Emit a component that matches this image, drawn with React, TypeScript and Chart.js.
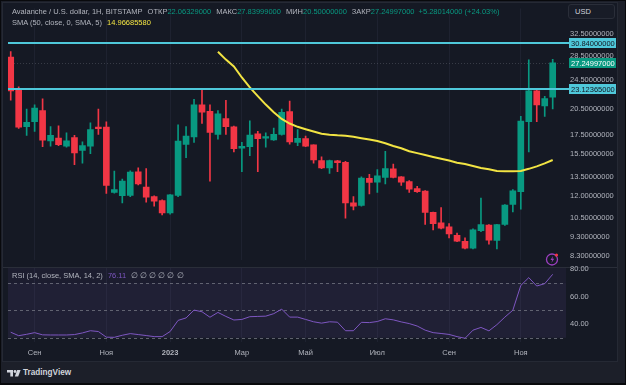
import React, { useEffect, useRef } from "react";
import { Chart, registerables } from "chart.js";
Chart.register(...registerables);

// ---------- data ----------
const categories = [
  "2022-08-15", "2022-08-22", "2022-08-29", "2022-09-05", "2022-09-12", "2022-09-19", "2022-09-26",
  "2022-10-03", "2022-10-10", "2022-10-17", "2022-10-24", "2022-10-31", "2022-11-07", "2022-11-14",
  "2022-11-21", "2022-11-28", "2022-12-05", "2022-12-12", "2022-12-19", "2022-12-26", "2023-01-02",
  "2023-01-09", "2023-01-16", "2023-01-23", "2023-01-30", "2023-02-06", "2023-02-13", "2023-02-20",
  "2023-02-27", "2023-03-06", "2023-03-13", "2023-03-20", "2023-03-27", "2023-04-03", "2023-04-10",
  "2023-04-17", "2023-04-24", "2023-05-01", "2023-05-08", "2023-05-15", "2023-05-22", "2023-05-29",
  "2023-06-05", "2023-06-12", "2023-06-19", "2023-06-26", "2023-07-03", "2023-07-10", "2023-07-17",
  "2023-07-24", "2023-07-31", "2023-08-07", "2023-08-14", "2023-08-21", "2023-08-28", "2023-09-04",
  "2023-09-11", "2023-09-18", "2023-09-25", "2023-10-02", "2023-10-09", "2023-10-16", "2023-10-23",
  "2023-10-30", "2023-11-06", "2023-11-13", "2023-11-20", "2023-11-27", "2023-12-04",
];

const opens = [
  28.22, 23.07, 18.40, 18.95, 20.30, 16.85, 17.15, 16.30, 17.19, 15.89, 16.30, 18.34, 18.34, 12.26,
  12.01, 12.03, 13.93, 12.68, 11.96, 11.66, 10.80, 12.03, 16.49, 17.25, 21.03, 20.22, 17.53, 19.33,
  18.37, 16.11, 16.26, 17.60, 17.12, 16.95, 17.53, 20.18, 16.69, 17.09, 16.43, 14.93, 14.26, 14.89,
  14.75, 11.50, 11.32, 13.37, 13.06, 13.45, 14.18, 13.50, 13.11, 12.55, 12.36, 10.84, 10.16, 9.92,
  9.41, 9.07, 8.70, 9.69, 10.02, 9.12, 10.06, 11.39, 12.31, 18.95, 22.93, 20.91, 22.06,
];
const highs = [
  29.19, 23.52, 20.50, 21.03, 21.82, 18.40, 18.48, 17.70, 17.42, 16.75, 18.84, 20.50, 18.95, 13.99,
  13.31, 14.00, 14.26, 14.21, 12.00, 11.72, 12.10, 18.59, 18.40, 21.75, 23.07, 21.03, 20.30, 21.62,
  18.45, 16.69, 19.06, 17.87, 17.70, 18.23, 20.50, 21.53, 18.05, 17.35, 16.45, 15.28, 14.96, 14.95,
  14.85, 11.96, 13.50, 13.71, 14.12, 15.79, 14.60, 13.52, 13.19, 12.73, 12.40, 10.86, 11.16, 10.12,
  9.55, 9.27, 9.79, 11.84, 10.05, 10.08, 11.38, 12.48, 19.60, 27.78, 23.00, 22.17, 27.84,
];
const lows = [
  21.66, 18.20, 17.42, 17.87, 16.26, 16.30, 16.36, 16.20, 14.54, 14.69, 15.58, 17.53, 12.19, 12.20,
  11.50, 11.95, 12.85, 11.54, 11.27, 10.67, 10.73, 11.95, 15.19, 16.69, 18.77, 13.14, 17.02, 17.53,
  15.74, 13.93, 15.37, 13.93, 16.20, 16.90, 17.45, 16.52, 16.36, 16.25, 14.69, 14.20, 13.79, 13.93,
  10.46, 11.01, 11.27, 12.15, 12.26, 12.93, 13.40, 12.81, 12.26, 12.26, 10.06, 9.73, 9.79, 9.27,
  9.05, 8.65, 8.65, 9.63, 8.91, 8.65, 10.00, 10.88, 11.06, 15.74, 18.95, 19.60, 20.50,
];
const closes = [
  22.93, 18.34, 18.89, 20.63, 16.92, 17.42, 16.45, 16.85, 15.64, 16.36, 18.05, 18.15, 12.81, 12.48,
  13.14, 13.91, 12.93, 11.91, 11.61, 10.80, 12.08, 16.82, 17.35, 21.03, 20.10, 17.76, 19.91, 18.40,
  16.05, 16.30, 17.45, 17.09, 17.29, 17.53, 20.10, 16.75, 17.12, 16.30, 14.98, 14.26, 14.93, 14.72,
  11.50, 11.27, 13.39, 13.04, 13.58, 14.21, 13.45, 13.06, 12.51, 12.31, 10.84, 10.12, 9.83, 9.49,
  9.08, 8.70, 9.73, 10.06, 9.14, 10.06, 11.34, 12.39, 19.03, 22.93, 21.03, 21.88, 27.25,
];

const sma50 = [
  null, null, null, null, null, null, null, null, null, null, null, null, null, null,
  null, null, null, null, null, null, null, null, null, null, null, null, 29.19, 27.8,
  26.65, 24.9, 23.42, 22.2, 21.07, 20.11, 19.28, 18.75, 18.37, 18.1, 17.84, 17.6, 17.5, 17.43,
  17.38, 17.27, 17.13, 16.98, 16.83, 16.6, 16.33, 16.1, 15.8, 15.62, 15.44, 15.26, 15.09, 14.92,
  14.73, 14.6, 14.43, 14.26, 14.15, 14.0, 13.97, 13.97, 14.0, 14.18, 14.4, 14.66, 14.97,
];

const rsi14 = [
  34.0, 31.5, 32.5, 33.7, 32.1, 32.0, 32.0, 32.0, 32.3, 33.5, 35.1, 34.5, 30.4, 30.3,
  31.8, 33.0, 32.3, 31.6, 30.8, 30.8, 34.5, 42.6, 44.4, 50.1, 48.9, 44.9, 48.4, 45.5,
  42.9, 43.3, 45.3, 45.5, 45.7, 47.5, 50.8, 45.0, 45.0, 43.3, 41.6, 40.6, 41.6, 41.3,
  35.1, 35.1, 41.2, 41.0, 41.8, 43.8, 43.0, 41.5, 40.3, 38.5, 35.5, 33.7, 33.1, 32.4,
  30.8, 29.6, 35.5, 37.5, 35.0, 39.5, 45.0, 50.0, 68.0, 73.7, 67.6, 69.3, 76.1,
];

const priceTicks = [32.5, 28.5, 24.5, 20.5, 17.5, 15.5, 13.5, 12.0, 10.5, 9.3, 8.3];
const rsiTicks = [80, 60, 40];
const rsiLevels = [70, 50, 30];
const monthTicks: [string, string][] = [
  ["2022-09-05", "Сен"], ["2022-11-07", "Ноя"], ["2023-01-02", "2023"], ["2023-03-06", "Мар"],
  ["2023-05-01", "Май"], ["2023-07-03", "Июл"], ["2023-09-04", "Сен"], ["2023-11-06", "Ноя"],
];
const levelLines = [30.84, 23.12365];
const lastPrice = 27.24997;

// ---------- styles ----------
const FONT = '"Liberation Sans", Arial, sans-serif';
const TXT = "#b2b5be";
const GREEN = "#089981";
const RED = "#f23645";
const CYAN = "#4fc8da";
const YELLOW = "#f2e443";
const PURPLE = "#7e57c2";
const GRID = "#1e2230";
const X_MIN = 0.66;
const X_MAX = 70.67;
const PRICE_MIN = 8.11;
const PRICE_MAX = 38.09;
const RSI_MIN = 26.9;
const RSI_MAX = 80.7;

const monthIndex = monthTicks.map(([d]) => categories.indexOf(d) + 1);
const monthLabel = (v: number) => {
  const k = monthIndex.indexOf(Math.round(v));
  return k >= 0 ? monthTicks[k][1] : "";
};

const candleColors = opens.map((o, i) => (closes[i] >= o ? GREEN : RED));

const pricePlugin = {
  id: "priceOverlay",
  beforeDatasetsDraw(chart: any) {
    const { ctx, chartArea, scales } = chart;
    const py = Math.round(scales.y.getPixelForValue(lastPrice)) + 0.5;
    ctx.save();
    ctx.strokeStyle = "rgba(120,123,134,0.35)";
    ctx.lineWidth = 1;
    ctx.setLineDash([1, 2]);
    ctx.beginPath();
    ctx.moveTo(chartArea.left, py);
    ctx.lineTo(chartArea.right, py);
    ctx.stroke();
    ctx.restore();
  },
  afterDatasetsDraw(chart: any) {
    const { ctx, chartArea, scales } = chart;
    ctx.save();
    ctx.strokeStyle = CYAN;
    ctx.lineWidth = 2;
    levelLines.forEach((v) => {
      const py = Math.round(scales.y.getPixelForValue(v));
      ctx.beginPath();
      ctx.moveTo(chartArea.left, py);
      ctx.lineTo(chartArea.right + 3, py);
      ctx.stroke();
    });
    ctx.restore();
  },
  afterDraw(chart: any) {
    const { ctx, chartArea, scales } = chart;
    const tags = [
      { v: levelLines[0], bg: CYAN, fg: "#131722" },
      { v: lastPrice, bg: GREEN, fg: "#ffffff" },
      { v: levelLines[1], bg: CYAN, fg: "#131722" },
    ];
    ctx.save();
    ctx.font = `7.5px ${FONT}`;
    ctx.textBaseline = "middle";
    ctx.textAlign = "left";
    tags.forEach((t) => {
      const py = Math.round(scales.y.getPixelForValue(t.v));
      ctx.fillStyle = t.bg;
      ctx.fillRect(chartArea.right + 3, py - 5, 47, 10);
      ctx.fillStyle = t.fg;
      ctx.fillText(t.v.toFixed(8), chartArea.right + 5, py + 0.5);
    });
    ctx.restore();
  },
};

const rsiPlugin = {
  id: "rsiOverlay",
  beforeDatasetsDraw(chart: any) {
    const { ctx, chartArea, scales } = chart;
    const y70 = scales.y.getPixelForValue(rsiLevels[0]);
    const y30 = scales.y.getPixelForValue(rsiLevels[2]);
    ctx.save();
    ctx.fillStyle = "rgba(126,87,194,0.07)";
    ctx.fillRect(chartArea.left, chartArea.top, chartArea.right - chartArea.left, y70 - chartArea.top);
    ctx.fillStyle = "rgba(126,87,194,0.11)";
    ctx.fillRect(chartArea.left, y70, chartArea.right - chartArea.left, y30 - y70);
    ctx.strokeStyle = "rgba(120,123,134,0.75)";
    ctx.lineWidth = 1;
    ctx.setLineDash([3, 3]);
    rsiLevels.forEach((v) => {
      const py = Math.round(scales.y.getPixelForValue(v)) + 0.5;
      ctx.beginPath();
      ctx.moveTo(chartArea.left, py);
      ctx.lineTo(chartArea.right, py);
      ctx.stroke();
    });
    ctx.restore();
  },
};

export default function App() {
  const priceRef = useRef<HTMLCanvasElement>(null);
  const rsiRef = useRef<HTMLCanvasElement>(null);

  useEffect(() => {
    const wickPoints = categories.map((_, i) => ({ x: i + 1, y: [lows[i], highs[i]] }));
    const bodyPoints = categories.map((_, i) => ({ x: i + 1, y: [opens[i], closes[i]] }));
    const smaPoints = categories.map((_, i) => ({ x: i + 1, y: sma50[i] }));
    const rsiPoints = categories.map((_, i) => ({ x: i + 1, y: rsi14[i] }));

    const pc = new Chart(priceRef.current as HTMLCanvasElement, {
      type: "bar",
      data: {
        datasets: [
          {
            type: "line",
            label: "SMA 50",
            data: smaPoints as any,
            borderColor: YELLOW,
            borderWidth: 2,
            pointRadius: 0,
            spanGaps: false,
            order: 0,
          } as any,
          {
            label: "body",
            data: bodyPoints as any,
            backgroundColor: candleColors,
            barThickness: 6,
            grouped: false,
            minBarLength: 1,
            borderWidth: 0,
            order: 1,
          } as any,
          {
            label: "wick",
            data: wickPoints as any,
            backgroundColor: candleColors,
            barThickness: 1,
            grouped: false,
            borderWidth: 0,
            order: 2,
          } as any,
        ],
      },
      options: {
        animation: false,
        responsive: false,
        devicePixelRatio: 1,
        events: [],
        layout: { padding: { left: 8, top: 3, bottom: 2, right: 0 } },
        plugins: { legend: { display: false }, tooltip: { enabled: false } },
        scales: {
          x: {
            type: "linear",
            min: X_MIN,
            max: X_MAX,
            offset: false,
            grid: { color: GRID, drawTicks: false, offset: false },
            border: { display: false },
            ticks: { display: false },
            afterBuildTicks: (s: any) => {
              s.ticks = monthIndex.map((v) => ({ value: v }));
            },
            afterFit: (s: any) => {
              s.height = 0;
            },
          },
          y: {
            type: "logarithmic",
            position: "right",
            min: PRICE_MIN,
            max: PRICE_MAX,
            grid: { display: false, drawTicks: false },
            border: { display: false },
            ticks: {
              color: TXT,
              font: { family: FONT, size: 7.5 },
              padding: 4,
              autoSkip: false,
              callback: (v: any) => Number(v).toFixed(8),
            },
            afterBuildTicks: (s: any) => {
              s.ticks = priceTicks.map((v) => ({ value: v }));
            },
            afterFit: (s: any) => {
              s.width = 60;
            },
          },
        },
      } as any,
      plugins: [pricePlugin],
    });

    const rc = new Chart(rsiRef.current as HTMLCanvasElement, {
      type: "line",
      data: {
        datasets: [
          {
            label: "RSI",
            data: rsiPoints as any,
            borderColor: PURPLE,
            borderWidth: 1,
            pointRadius: 0,
          },
        ],
      },
      options: {
        animation: false,
        responsive: false,
        devicePixelRatio: 1,
        events: [],
        layout: { padding: { left: 8, top: 13, bottom: 0, right: 0 } },
        plugins: { legend: { display: false }, tooltip: { enabled: false } },
        scales: {
          x: {
            type: "linear",
            min: X_MIN,
            max: X_MAX,
            grid: { color: GRID, drawTicks: false },
            border: { display: false },
            ticks: {
              color: TXT,
              padding: 6,
              autoSkip: false,
              maxRotation: 0,
              font: (c: any) => ({
                family: FONT,
                size: 7.5,
                weight: c.tick && c.tick.label === "2023" ? "bold" : "normal",
              }),
              callback: (v: any) => monthLabel(Number(v)),
            },
            afterBuildTicks: (s: any) => {
              s.ticks = monthIndex.map((v) => ({ value: v }));
            },
            afterFit: (s: any) => {
              s.height = 18;
            },
          },
          y: {
            position: "right",
            min: RSI_MIN,
            max: RSI_MAX,
            grid: { display: false, drawTicks: false },
            border: { display: false },
            ticks: {
              color: TXT,
              font: { family: FONT, size: 7.5 },
              padding: 4,
              autoSkip: false,
              callback: (v: any) => Number(v).toFixed(2),
            },
            afterBuildTicks: (s: any) => {
              s.ticks = rsiTicks.map((v) => ({ value: v }));
            },
            afterFit: (s: any) => {
              s.width = 60;
            },
          },
        },
      } as any,
      plugins: [rsiPlugin],
    });

    return () => {
      pc.destroy();
      rc.destroy();
    };
  }, []);

  const txt: React.CSSProperties = {
    position: "absolute",
    fontFamily: FONT,
    fontSize: "7.5px",
    color: TXT,
    whiteSpace: "pre",
    lineHeight: "9px",
  };

  return (
    <div
      style={{
        position: "fixed",
        left: 0,
        top: 0,
        width: 626,
        height: 385,
        background: "#08090c",
        overflow: "hidden",
      }}
    >
      <div style={{ position: "absolute", left: 1, top: 1, width: 624, height: 382, background: "#1c1f29" }} />
      <div
        style={{
          position: "absolute",
          left: 2,
          top: 2,
          width: 614,
          height: 358,
          background: "#151924",
          border: "1px solid #252934",
        }}
      />
      <div style={{ position: "absolute", left: 3, top: 267, width: 614, height: 1, background: "#2a2e39" }} />
      <canvas
        ref={priceRef}
        width={626}
        height={268}
        style={{ position: "absolute", left: 0, top: 0, width: 626, height: 268, display: "block" }}
      />
      <canvas
        ref={rsiRef}
        width={626}
        height={105}
        style={{ position: "absolute", left: 0, top: 255, width: 626, height: 105, display: "block" }}
      />

      <div style={{ ...txt, left: 12, top: 7 }}>
        <span>Avalanche / U.S. dollar, 1H, BITSTAMP</span>
        <span style={{ marginLeft: 5 }}>ОТКР</span>
        <span style={{ color: GREEN }}>22.06329000</span>
        <span style={{ marginLeft: 5 }}>МАКС</span>
        <span style={{ color: GREEN }}>27.83999000</span>
        <span style={{ marginLeft: 5 }}>МИН</span>
        <span style={{ color: GREEN }}>20.50000000</span>
        <span style={{ marginLeft: 5 }}>ЗАКР</span>
        <span style={{ color: GREEN }}>27.24997000</span>
        <span style={{ color: GREEN, marginLeft: 4 }}>+5.28014000 (+24.03%)</span>
      </div>
      <div style={{ ...txt, left: 12, top: 18 }}>
        <span>SMA (50, close, 0, SMA, 5)</span>
        <span style={{ color: YELLOW, marginLeft: 5 }}>14.96685580</span>
      </div>
      <div style={{ ...txt, left: 12, top: 271 }}>
        <span>RSI (14, close, SMA, 14, 2)</span>
        <span style={{ color: PURPLE, marginLeft: 5 }}>76.11</span>
        <span style={{ marginLeft: 5 }}>∅ ∅ ∅ ∅ ∅ ∅</span>
      </div>

      <div
        style={{
          position: "absolute",
          left: 568,
          top: 4,
          width: 47,
          height: 15,
          background: "#181c27",
          border: "1px solid #2a2e39",
          borderRadius: 3,
          boxSizing: "border-box",
          fontFamily: FONT,
          fontSize: "7.5px",
          color: "#d1d4dc",
          lineHeight: "13px",
          paddingLeft: 6,
        }}
      >
        USD
      </div>

      <svg style={{ position: "absolute", left: 545, top: 252 }} width={15} height={15} viewBox="0 0 15 15">
        <circle cx="7" cy="7.5" r="5.5" fill="none" stroke="#9c3fc0" strokeWidth="1.3" />
        <path d="M8 4 L5.5 8 L7.3 8 L6.4 11 L9.2 6.8 L7.4 6.8 Z" fill="#9c3fc0" />
        <circle cx="11.5" cy="3" r="1.6" fill="#f23645" />
      </svg>

      <svg style={{ position: "absolute", left: 7, top: 370 }} width={14} height={7} viewBox="0 0 14 7">
        <path d="M0 0 H6 V6.5 H3.3 V2.6 H0 Z" fill="#d1d4dc" />
        <circle cx="8" cy="1.5" r="1.4" fill="#d1d4dc" />
        <path d="M10.2 0 H13.6 L11.2 6.5 H7.8 Z" fill="#d1d4dc" />
      </svg>
      <div
        style={{
          position: "absolute",
          left: 23,
          top: 368,
          fontFamily: FONT,
          fontSize: "8.2px",
          fontWeight: 600,
          color: "#d1d4dc",
          lineHeight: "10px",
        }}
      >
        TradingView
      </div>
    </div>
  );
}
